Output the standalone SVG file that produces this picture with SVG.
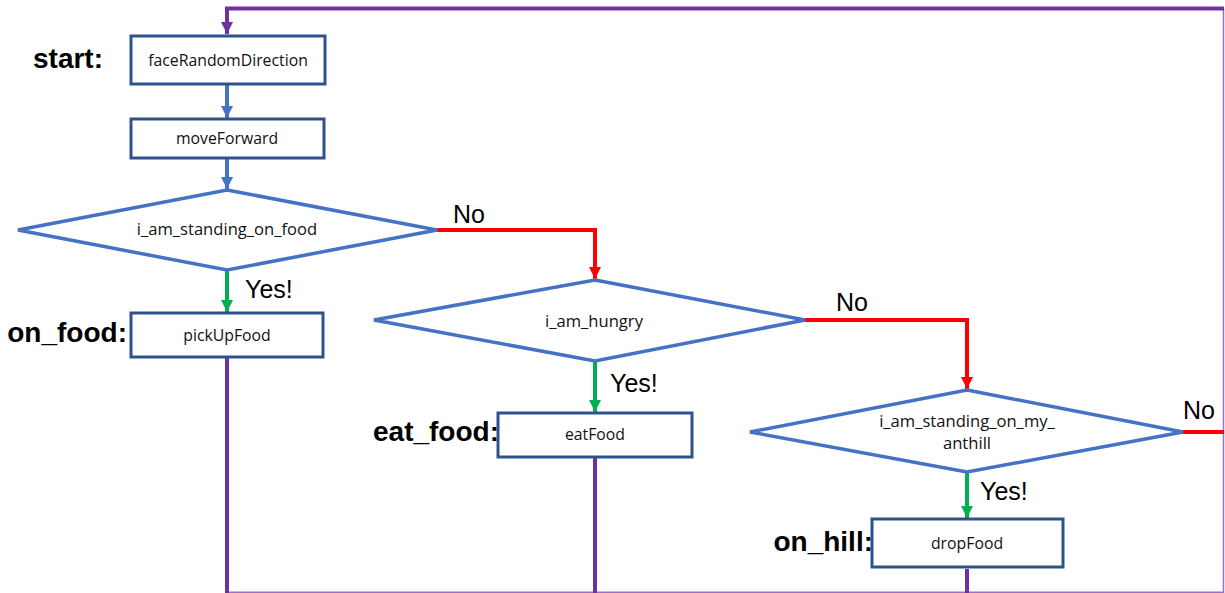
<svg xmlns="http://www.w3.org/2000/svg" width="1225" height="593" viewBox="0 0 1225 593">
<style>
.box{fill:#fff;stroke:#2F528F;stroke-width:3}
.dia{fill:#fff;stroke:#4472C4;stroke-width:3.5;stroke-linejoin:miter}
.t{font-family:"Open Sans","Liberation Sans",sans-serif;font-size:15.8px;fill:#111;text-anchor:middle}
.d{font-size:16.6px}
.lbl{font-family:"Liberation Sans",Arial,sans-serif;font-size:28px;font-weight:bold;fill:#000;text-anchor:end}
.yn{font-family:"Liberation Sans",Arial,sans-serif;font-size:25px;fill:#000}
.blue{stroke:#4472C4;stroke-width:4;fill:none}
.green{stroke:#00B050;stroke-width:4;fill:none}
.red{stroke:#FF0000;stroke-width:4;fill:none}
.purple{stroke:#7030A0;stroke-width:4;fill:none}
.thin{stroke:#9E6FC8;stroke-width:1.5;fill:none}
</style>
<defs>
<marker id="ab" markerUnits="userSpaceOnUse" markerWidth="14" markerHeight="12" refX="12" refY="6" orient="auto"><path d="M0,0L12,6L0,12z" fill="#4472C4"/></marker>
<marker id="ag" markerUnits="userSpaceOnUse" markerWidth="14" markerHeight="12" refX="12" refY="6" orient="auto"><path d="M0,0L12,6L0,12z" fill="#00B050"/></marker>
<marker id="ar" markerUnits="userSpaceOnUse" markerWidth="14" markerHeight="12" refX="12" refY="6" orient="auto"><path d="M0,0L12,6L0,12z" fill="#FF0000"/></marker>
<marker id="ap" markerUnits="userSpaceOnUse" markerWidth="14" markerHeight="12" refX="12" refY="6" orient="auto"><path d="M0,0L12,6L0,12z" fill="#7030A0"/></marker>
</defs>
<rect width="1225" height="593" fill="#fff"/>
<g id="connectors">
<path class="thin" d="M1223.5,8.5V592.3H227"/>
<path class="purple" d="M1224,8.5H227V34" marker-end="url(#ap)"/>
<path class="purple" d="M227,358V593"/>
<path class="purple" d="M595,458V593"/>
<path class="purple" d="M967,569V593"/>
<path class="blue" d="M227,85V118" marker-end="url(#ab)"/>
<path class="blue" d="M227,159V189" marker-end="url(#ab)"/>
<path class="green" d="M227,271V312" marker-end="url(#ag)"/>
<path class="red" d="M437,230H595V279" marker-end="url(#ar)"/>
<path class="green" d="M595,362V412" marker-end="url(#ag)"/>
<path class="red" d="M805,320H967V389" marker-end="url(#ar)"/>
<path class="green" d="M967,472V518" marker-end="url(#ag)"/>
<path class="red" d="M1183,432H1224"/>
<text class="yn" x="245" y="298">Yes!</text>
<text class="yn" x="453" y="223">No</text>
<text class="yn" x="610" y="392">Yes!</text>
<text class="yn" x="836" y="311">No</text>
<text class="yn" x="980" y="500">Yes!</text>
<text class="yn" x="1183" y="419">No</text>
</g>
<g id="start">
<text class="lbl" x="103" y="68">start:</text>
<rect class="box" x="131" y="36" width="194" height="48"/>
<text class="t" x="228" y="66">faceRandomDirection</text>
</g>
<g id="moveForward">
<rect class="box" x="131" y="119" width="193" height="39"/>
<text class="t" x="227" y="144">moveForward</text>
</g>
<g id="onFoodDecision">
<polygon class="dia" points="227,190 437,230 227,270 18,230"/>
<text class="t d" x="227" y="235">i_am_standing_on_food</text>
</g>
<g id="pickUpFood">
<text class="lbl" x="127" y="342">on_food:</text>
<rect class="box" x="131" y="313" width="192" height="44"/>
<text class="t" x="227" y="341">pickUpFood</text>
</g>
<g id="hungryDecision">
<polygon class="dia" points="595,280 805,320 595,361 374,320"/>
<text class="t d" x="594" y="327">i_am_hungry</text>
</g>
<g id="eatFood">
<text class="lbl" x="499" y="441">eat_food:</text>
<rect class="box" x="498" y="413" width="194" height="44"/>
<text class="t" x="595" y="440">eatFood</text>
</g>
<g id="anthillDecision">
<polygon class="dia" points="967,390 1183,432 967,472 750,432"/>
<text class="t d" x="967" y="427">i_am_standing_on_my_</text>
<text class="t d" x="967" y="449">anthill</text>
</g>
<g id="dropFood">
<text class="lbl" x="873" y="551">on_hill:</text>
<rect class="box" x="872" y="519" width="191" height="48"/>
<text class="t" x="967" y="549">dropFood</text>
</g>
</svg>
